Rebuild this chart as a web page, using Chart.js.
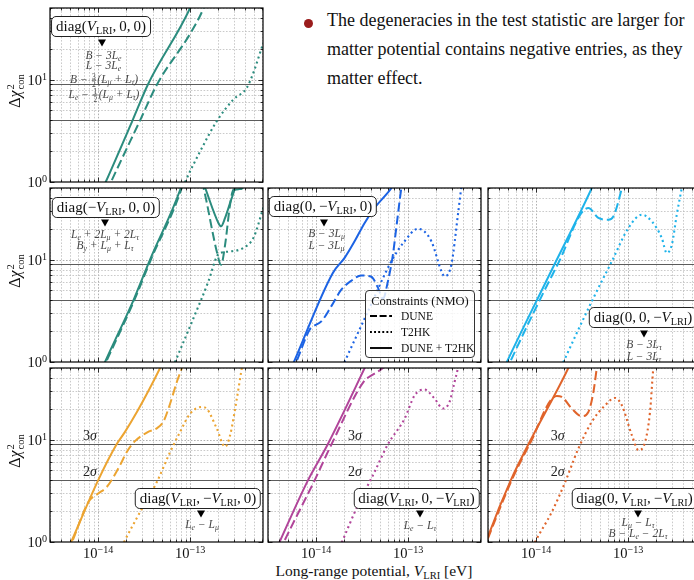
<!DOCTYPE html>
<html>
<head>
<meta charset="utf-8">
<title>Degeneracies of the long-range potential</title>
<script src="https://cdn.jsdelivr.net/npm/chart.js@4.4.1/dist/chart.umd.min.js"></script>
<style>
  html, body { margin:0; padding:0; width:694px; height:580px; overflow:hidden; background:#fff; }
  body { position:relative; font-family:"Liberation Serif","Times New Roman",serif; color:#111; }
  .abs { position:absolute; white-space:nowrap; }
  canvas { position:absolute; }
  sub { font-size:0.68em; vertical-align:-0.28em; line-height:0; }
  sup { font-size:0.7em; vertical-align:0.48em; line-height:0; }
  .box { background:#fff; border:1px solid #222; border-radius:5px; padding:0 4px; font-size:15px; line-height:19px; transform:translateX(-50%); }
  .tri { width:0; height:0; border-left:4px solid transparent; border-right:4px solid transparent; border-top:7px solid #000; transform:translate(-50%,-50%); }
  .note { font-size:11.5px; line-height:12px; color:#474747; font-style:italic; transform:translate(-50%,-50%); }
  .fr { display:inline-block; vertical-align:middle; font-size:7.5px; line-height:7px; text-align:center; font-style:normal; margin:0 1px; }
  .fr span { display:block; padding:0 0.5px; }
  .fr span:first-child { border-bottom:0.7px solid #474747; }
  .tick { font-size:14.5px; line-height:16px; }
  .sig { font-size:14px; line-height:14px; color:#222; transform:translate(-50%,-100%); }
  .ylab { font-size:16px; line-height:18px; transform:translate(-50%,-50%) rotate(-90deg); }
  .ss { display:inline-block; vertical-align:middle; font-size:0.66em; line-height:0.95em; text-align:left; margin-left:1px; }
  .ss span { display:block; }
  .legend { background:rgba(255,255,255,0.8); border:1px solid #333; border-radius:4px; box-sizing:border-box; }
  .legend .lt { position:absolute; left:0; right:0; top:3px; text-align:center; font-size:12.5px; line-height:14px; }
  .legend .lr { position:absolute; left:4px; font-size:11.5px; line-height:12px; }
  .legend svg { position:absolute; left:0; top:3px; }
  .legend .lr span { position:absolute; left:31px; top:0; }
</style>
</head>
<body>
<div class="abs" style="left:303.5px;top:18.5px;width:9px;height:9px;border-radius:50%;background:#9a1c1c"></div>
<div class="abs" style="left:327px;top:6px;font-size:18px;line-height:29px;">The degeneracies in the test statistic are larger for<br>matter potential contains negative entries, as they<br>matter effect.</div>
<div class="abs" style="left:374px;top:571px;font-size:15.5px;line-height:18px;transform:translate(-50%,-50%);">Long-range potential, <i>V</i><sub>LRI</sub> [eV]</div>

<script>
// ---------------- axis ranges and reference levels ----------------
const X_MIN = 3e-15, X_MAX = 6.2e-13;
const Y_MIN = 1, Y_MAX = 50;
const X_TICK_LABELS = [1e-14, 1e-13];
const Y_TICK_LABELS = [1, 10];
const SIGMA_LEVELS = [4, 9];
const SIGMA_NAMES = ['2σ', '3σ'];

// ---------------- diag(V_LRI, 0, 0) ----------------
const ePlus_dune_v = [1.23e-14, 1.38e-14, 2.86e-14, 4.38e-14, 1.04e-13, 1.40e-13, 1.55e-13];
const ePlus_dune_c = [0.8, 1.0, 4.0, 9.0, 29.7, 50, 66];
const ePlus_t2hk_v = [8.0e-14, 8.83e-14, 1.29e-13, 1.95e-13, 2.96e-13, 4.13e-13, 4.88e-13, 6.26e-13, 7.0e-13];
const ePlus_t2hk_c = [0.8, 1.0, 2.0, 3.93, 6.4, 8.3, 11.7, 22.9, 30];
const ePlus_both_v = [1.08e-14, 1.21e-14, 2.37e-14, 3.49e-14, 1.0e-13, 1.1e-13];
const ePlus_both_c = [0.8, 1.0, 4.0, 9.0, 50, 62];

// ---------------- diag(-V_LRI, 0, 0) ----------------
const eMinus_dune_v = [1.09e-14, 1.22e-14, 2.47e-14, 3.75e-14, 8.1e-14, 1.0e-13, 1.25e-13, 1.40e-13, 1.95e-13, 2.17e-13, 2.40e-13, 2.72e-13, 2.96e-13, 3.6e-13, 3.9e-13];
const eMinus_dune_c = [0.8, 1.0, 4.0, 10, 50, 100, 70, 50, 12.0, 8.9, 13.9, 34.5, 48, 49, 60];
const eMinus_t2hk_v = [6.2e-14, 6.87e-14, 1.09e-13, 1.58e-13, 1.95e-13, 2.12e-13, 2.72e-13, 3.79e-13, 4.88e-13, 6.07e-13, 7.0e-13];
const eMinus_t2hk_c = [0.8, 1.0, 2.69, 6.12, 10.7, 11.6, 12.0, 13.0, 16.3, 29.4, 45];
const eMinus_both_v = [1.07e-14, 1.19e-14, 2.42e-14, 3.67e-14, 7.93e-14, 1.0e-13, 1.29e-13, 1.46e-13, 2.03e-13, 2.17e-13, 2.40e-13, 2.84e-13, 3.09e-13, 3.67e-13, 3.96e-13];
const eMinus_both_c = [0.8, 1.0, 4.0, 10, 50, 100, 68, 50, 22.8, 21.1, 25.5, 40, 48.2, 49.3, 60];

// ---------------- diag(0, -V_LRI, 0) ----------------
const muMinus_dune_v = [5.45e-15, 6.09e-15, 8.5e-15, 9.16e-15, 1.14e-14, 1.46e-14, 1.88e-14, 2.42e-14, 3.1e-14, 3.98e-14, 4.70e-14, 5.33e-14, 6.03e-14, 6.84e-14, 7.44e-14, 8.44e-14, 9.0e-14];
const muMinus_dune_c = [0.8, 1.0, 2.07, 2.21, 2.49, 3.49, 5.08, 6.22, 7.0, 6.8, 5.32, 4.15, 6.12, 11.2, 20.4, 50, 70];
const muMinus_t2hk_v = [1.83e-14, 2.04e-14, 3.65e-14, 6.56e-14, 9.16e-14, 1.28e-13, 1.79e-13, 2.30e-13, 2.49e-13, 2.95e-13, 3.48e-13, 3.78e-13, 4.0e-13];
const muMinus_t2hk_c = [0.8, 1.0, 3.1, 9.6, 15.1, 20.0, 15.1, 7.7, 6.86, 8.9, 27.4, 50, 70];
const muMinus_both_v = [5.15e-15, 5.74e-15, 1.52e-14, 2.04e-14, 2.62e-14, 3.37e-14, 4.32e-14, 6.6e-14, 7.3e-14];
const muMinus_both_c = [0.8, 1.0, 7.4, 10.4, 15.1, 22.8, 31.9, 50, 58];

// ---------------- diag(0, 0, -V_LRI) ----------------
const tauMinus_dune_v = [4.66e-15, 5.21e-15, 1.72e-14, 3.7e-14, 4.75e-14, 6.11e-14, 6.92e-14, 8.55e-14, 9.1e-14];
const tauMinus_dune_c = [0.8, 1.0, 9.0, 31.9, 25.5, 24.5, 26.4, 50, 65];
const tauMinus_t2hk_v = [1.77e-14, 1.98e-14, 4.03e-14, 6.65e-14, 1.01e-13, 1.41e-13, 1.81e-13, 2.32e-13, 2.63e-13, 2.99e-13, 3.38e-13, 3.83e-13, 4.1e-13];
const tauMinus_t2hk_c = [0.8, 1.0, 3.91, 9.6, 20.4, 27.4, 23.6, 16.3, 11.6, 14.0, 27.4, 50, 70];
const tauMinus_both_v = [4.3e-15, 4.81e-15, 1.39e-14, 4.03e-14, 4.4e-14];
const tauMinus_both_c = [0.8, 1.0, 7.07, 50, 60];

// ---------------- diag(V_LRI, -V_LRI, 0) ----------------
const eMu_dune_v = [4.66e-15, 5.21e-15, 7.85e-15, 1.0e-14, 1.24e-14, 1.73e-14, 2.05e-14, 2.5e-14, 3.5e-14, 4.3e-14, 5.13e-14, 6.07e-14, 7.17e-14, 8.13e-14, 8.7e-14];
const eMu_dune_c = [0.8, 1.0, 2.46, 2.97, 3.44, 5.61, 7.57, 9.6, 11.9, 12.8, 15.0, 22.5, 36.5, 50, 62];
const eMu_t2hk_v = [1.72e-14, 1.92e-14, 2.86e-14, 4.35e-14, 6.07e-14, 7.79e-14, 1.0e-13, 1.34e-13, 1.52e-13, 1.95e-13, 2.40e-13, 2.72e-13, 3.22e-13, 3.65e-13, 3.9e-13];
const eMu_t2hk_c = [0.8, 1.0, 1.96, 3.85, 7.57, 11.9, 17.9, 20.8, 20.0, 12.8, 8.5, 11.0, 25.1, 50, 70];
const eMu_both_v = [4.55e-15, 5.09e-15, 1.0e-14, 1.59e-14, 1.96e-14, 2.64e-14, 3.6e-14, 4.72e-14, 5.2e-14];
const eMu_both_c = [0.8, 1.0, 4.0, 9.0, 11.9, 18.6, 31, 50, 60];

// ---------------- diag(V_LRI, 0, -V_LRI) ----------------
const eTau_dune_v = [4.0e-15, 4.47e-15, 9.63e-15, 1.47e-14, 3.37e-14, 3.72e-14, 5.32e-14, 6.0e-14];
const eTau_dune_c = [0.8, 1.0, 4.0, 9.0, 37.9, 40.6, 50, 56];
const eTau_t2hk_v = [1.71e-14, 1.91e-14, 2.84e-14, 4.32e-14, 6.03e-14, 9.16e-14, 1.18e-13, 1.51e-13, 1.94e-13, 2.39e-13, 2.82e-13, 3.20e-13, 3.48e-13, 3.7e-13];
const eTau_t2hk_c = [0.8, 1.0, 2.28, 4.83, 9.0, 16.0, 27.1, 30.8, 25.1, 20.1, 23.3, 36.6, 50, 70];
const eTau_both_v = [3.59e-15, 4.01e-15, 8.15e-15, 1.34e-14, 3.37e-14, 3.7e-14];
const eTau_both_c = [0.8, 1.0, 4.0, 9.0, 50, 60];

// ---------------- diag(0, V_LRI, -V_LRI) ----------------
const muTau_dune_v = [2.7e-15, 2.99e-15, 5.42e-15, 8.5e-15, 1.68e-14, 1.90e-14, 2.44e-14, 3.14e-14, 3.70e-14, 4.2e-14, 4.57e-14, 4.8e-14];
const muTau_dune_c = [0.85, 1.08, 4.0, 9.0, 26.6, 26.1, 20.1, 16.9, 18.6, 29.2, 50, 65];
const muTau_t2hk_v = [8.7e-15, 9.75e-15, 1.48e-14, 2.07e-14, 2.88e-14, 4.03e-14, 5.62e-14, 7.22e-14, 8.55e-14, 1.10e-13, 1.30e-13, 1.53e-13, 1.73e-13, 1.88e-13, 2.0e-13];
const muTau_t2hk_c = [0.8, 1.0, 1.96, 3.85, 8.17, 14.9, 21.6, 25.5, 21.6, 11.0, 7.86, 9.48, 18.6, 50, 75];
const muTau_both_v = [2.7e-15, 2.99e-15, 5.3e-15, 8.25e-15, 2.24e-14, 2.45e-14];
const muTau_both_c = [0.85, 1.12, 4.0, 9.0, 50, 60];

// ---------------- layout ----------------
const COL_LEFT = [50, 268, 488];
const ROW_TOP = [8, 188, 368];
const PW = 213, PH = 174, PAD = 4;

const VL = '<i>V</i><sub>LRI</sub>';
const L = s => '<i>L<sub>' + s + '</sub></i>';
const FR = (a, b) => '<span class="fr"><span>' + a + '</span><span>' + b + '</span></span>';
const TS = '&thinsp;';

const PANELS = [
  { col:0, row:0, color:'#2b8c7e', dune:[ePlus_dune_v, ePlus_dune_c], t2hk:[ePlus_t2hk_v, ePlus_t2hk_c], both:[ePlus_both_v, ePlus_both_c],
    box:'diag(' + VL + ',' + TS + '0,' + TS + '0)', boxAt:[101, 16], tri:[101.5, 42.5],
    notes:[['<i>B</i> − 3' + L('e'), 103.5, 55], ['<i>L</i> − 3' + L('e'), 103.5, 64.5],
           ['<i>B</i> − ' + FR(3, 2) + '(' + L('μ') + ' + ' + L('τ') + ')', 104, 80],
           [L('e') + ' − ' + FR(1, 2) + '(' + L('μ') + ' + ' + L('τ') + ')', 104, 94.5]] },
  { col:0, row:1, color:'#2b8c7e', dune:[eMinus_dune_v, eMinus_dune_c], t2hk:[eMinus_t2hk_v, eMinus_t2hk_c], both:[eMinus_both_v, eMinus_both_c],
    box:'diag(−' + VL + ',' + TS + '0,' + TS + '0)', boxAt:[106, 197], tri:[105, 222.5],
    notes:[[L('e') + ' + 2' + L('μ') + ' + 2' + L('τ'), 105, 233.5], ['<i>B<sub>y</sub></i> + ' + L('μ') + ' + ' + L('τ'), 105, 245]] },
  { col:1, row:1, color:'#1c63e4', dune:[muMinus_dune_v, muMinus_dune_c], t2hk:[muMinus_t2hk_v, muMinus_t2hk_c], both:[muMinus_both_v, muMinus_both_c],
    box:'diag(0,' + TS + '−' + VL + ',' + TS + '0)', boxAt:[323, 196], tri:[324, 223],
    notes:[['<i>B</i> − 3' + L('μ'), 326.5, 233], ['<i>L</i> − 3' + L('μ'), 326.5, 244.5]], legend:true },
  { col:2, row:1, color:'#1eb3ea', dune:[tauMinus_dune_v, tauMinus_dune_c], t2hk:[tauMinus_t2hk_v, tauMinus_t2hk_c], both:[tauMinus_both_v, tauMinus_both_c],
    box:'diag(0,' + TS + '0,' + TS + '−' + VL + ')', boxAt:[643, 307], tri:[644, 333.5],
    notes:[['<i>B</i> − 3' + L('τ'), 644, 344], ['<i>L</i> − 3' + L('τ'), 644, 356]] },
  { col:0, row:2, color:'#eca431', dune:[eMu_dune_v, eMu_dune_c], t2hk:[eMu_t2hk_v, eMu_t2hk_c], both:[eMu_both_v, eMu_both_c],
    box:'diag(' + VL + ',' + TS + '−' + VL + ',' + TS + '0)', boxAt:[198, 487.5], tri:[200.5, 514],
    notes:[[L('e') + ' − ' + L('μ'), 202, 524]], sigmaX:90 },
  { col:1, row:2, color:'#b1459a', dune:[eTau_dune_v, eTau_dune_c], t2hk:[eTau_t2hk_v, eTau_t2hk_c], both:[eTau_both_v, eTau_both_c],
    box:'diag(' + VL + ',' + TS + '0,' + TS + '−' + VL + ')', boxAt:[416.5, 487.5], tri:[420, 514],
    notes:[[L('e') + ' − ' + L('τ'), 420, 525]], sigmaX:355 },
  { col:2, row:2, color:'#e0642b', dune:[muTau_dune_v, muTau_dune_c], t2hk:[muTau_t2hk_v, muTau_t2hk_c], both:[muTau_both_v, muTau_both_c],
    box:'diag(0,' + TS + VL + ',' + TS + '−' + VL + ')', boxAt:[634.5, 487.5], tri:[638, 514],
    notes:[[L('μ') + ' − ' + L('τ'), 638, 522], ['<i>B</i> − ' + L('e') + ' − 2' + L('τ'), 638, 532.5]], sigmaX:557.7 }
];

// ---------------- helpers ----------------
function series(xs, ys) { return xs.map((v, i) => ({ x: v, y: ys[i] })); }
function logGrid(min, max) {
  const out = [];
  for (let e = Math.floor(Math.log10(min)); e <= Math.ceil(Math.log10(max)); e++) {
    for (let k = 1; k < 10; k++) {
      const v = k * Math.pow(10, e);
      if (v >= min * 0.999 && v <= max * 1.001) out.push(v);
    }
  }
  return out;
}
function isDecade(v) { const l = Math.log10(v); return Math.abs(l - Math.round(l)) < 1e-6; }
function pow10Label(v) {
  const e = Math.round(Math.log10(v));
  return '10<sup>' + String(e).replace('-', '−') + '</sup>';
}
function addEl(cls, html, left, top, extra) {
  const d = document.createElement('div');
  d.className = 'abs ' + cls;
  d.innerHTML = html;
  d.style.left = left + 'px';
  d.style.top = top + 'px';
  if (extra) Object.assign(d.style, extra);
  document.body.appendChild(d);
  return d;
}

// grid, sigma lines, frame and inward ticks drawn against the chart's scales
const axesFrame = {
  id: 'axesFrame',
  beforeDatasetsDraw(chart) {
    const { ctx, chartArea: a, scales: { x, y } } = chart;
    ctx.save();
    ctx.beginPath(); ctx.rect(a.left, a.top, a.right - a.left, a.bottom - a.top); ctx.clip();
    ctx.lineWidth = 0.8;
    ctx.setLineDash([1.6, 1.6]);
    for (const v of logGrid(X_MIN, X_MAX)) {
      const p = Math.round(x.getPixelForValue(v)) + 0.5;
      ctx.strokeStyle = isDecade(v) ? '#9c9c9c' : '#bdbdbd';
      ctx.beginPath(); ctx.moveTo(p, a.top); ctx.lineTo(p, a.bottom); ctx.stroke();
    }
    for (const v of logGrid(Y_MIN, Y_MAX)) {
      const p = Math.round(y.getPixelForValue(v)) + 0.5;
      ctx.strokeStyle = isDecade(v) ? '#9c9c9c' : '#bdbdbd';
      ctx.beginPath(); ctx.moveTo(a.left, p); ctx.lineTo(a.right, p); ctx.stroke();
    }
    ctx.setLineDash([]);
    ctx.strokeStyle = '#5c5c5c';
    ctx.lineWidth = 1.1;
    for (const lev of SIGMA_LEVELS) {
      const p = Math.round(y.getPixelForValue(lev)) + 0.5;
      ctx.beginPath(); ctx.moveTo(a.left, p); ctx.lineTo(a.right, p); ctx.stroke();
    }
    ctx.restore();
  },
  afterDatasetsDraw(chart) {
    const { ctx, chartArea: a, scales: { x, y } } = chart;
    ctx.save();
    ctx.strokeStyle = '#000';
    ctx.lineWidth = 0.8;
    ctx.beginPath();
    for (const v of logGrid(X_MIN, X_MAX)) {
      const p = Math.round(x.getPixelForValue(v)) + 0.5;
      const len = isDecade(v) ? 4.5 : 2.5;
      ctx.moveTo(p, a.bottom); ctx.lineTo(p, a.bottom - len);
      ctx.moveTo(p, a.top); ctx.lineTo(p, a.top + len);
    }
    for (const v of logGrid(Y_MIN, Y_MAX)) {
      const p = Math.round(y.getPixelForValue(v)) + 0.5;
      const len = isDecade(v) ? 4.5 : 2.5;
      ctx.moveTo(a.left, p); ctx.lineTo(a.left + len, p);
      ctx.moveTo(a.right, p); ctx.lineTo(a.right - len, p);
    }
    ctx.stroke();
    ctx.lineWidth = 1.2;
    ctx.strokeRect(a.left, a.top, a.right - a.left, a.bottom - a.top);
    ctx.restore();
  }
};

function lineSet(label, pts, color, dash, width) {
  return {
    label, data: series(pts[0], pts[1]),
    borderColor: color, borderWidth: width, borderDash: dash,
    borderCapStyle: 'butt', borderJoinStyle: 'round',
    pointRadius: 0, fill: false, clip: 0,
    cubicInterpolationMode: 'monotone'
  };
}

const charts = [];
for (const P of PANELS) {
  const left = COL_LEFT[P.col], top = ROW_TOP[P.row];
  const cv = document.createElement('canvas');
  cv.width = PW + 2 * PAD; cv.height = PH + 2 * PAD;
  cv.style.width = cv.width + 'px'; cv.style.height = cv.height + 'px';
  cv.style.left = (left - PAD) + 'px'; cv.style.top = (top - PAD) + 'px';
  document.body.appendChild(cv);
  const chart = new Chart(cv, {
    type: 'line',
    data: { datasets: [
      lineSet('T2HK', P.t2hk, P.color, [2, 3.2], 2.1),
      lineSet('DUNE', P.dune, P.color, [9, 4], 2),
      lineSet('DUNE + T2HK', P.both, P.color, [], 2)
    ] },
    options: {
      responsive: false, animation: false, events: [],
      layout: { padding: PAD },
      plugins: { legend: { display: false }, tooltip: { enabled: false } },
      scales: {
        x: { type: 'logarithmic', min: X_MIN, max: X_MAX, display: false },
        y: { type: 'logarithmic', min: Y_MIN, max: Y_MAX, display: false }
      }
    },
    plugins: [axesFrame]
  });
  charts.push({ P, chart, ox: left - PAD, oy: top - PAD });
}

// text placed from the scales of each panel
for (const { P, chart, ox, oy } of charts) {
  const xs = chart.scales.x, ys = chart.scales.y;
  const a = chart.chartArea;
  if (P.col === 0) {
    for (const v of Y_TICK_LABELS) {
      addEl('tick', pow10Label(v), ox + a.left - 3, oy + ys.getPixelForValue(v), { transform: 'translate(-100%,-50%)' });
    }
    addEl('ylab', 'Δ<i>χ</i><span class="ss"><span>2</span><span>con</span></span>', 16, oy + (a.top + a.bottom) / 2 - 4);
  }
  if (P.row === 2) {
    for (const v of X_TICK_LABELS) {
      addEl('tick', pow10Label(v), ox + xs.getPixelForValue(v), oy + a.bottom + 3, { transform: 'translateX(-50%)' });
    }
    SIGMA_LEVELS.forEach((lev, i) => {
      addEl('sig', SIGMA_NAMES[i].replace('σ', '<i>σ</i>'), P.sigmaX, oy + ys.getPixelForValue(lev) - 1.5);
    });
  }
  addEl('box', P.box, P.boxAt[0], P.boxAt[1]);
  addEl('tri', '', P.tri[0], P.tri[1]);
  for (const n of P.notes) addEl('note', n[0], n[1], n[2]);
  if (P.legend) {
    const lg = addEl('legend', '', 365, 290, { width: '110px', height: '68px' });
    lg.innerHTML =
      '<div class="lt">Constraints (NMO)</div>' +
      '<div class="lr" style="top:19px"><svg width="23" height="6"><line x1="0" y1="3" x2="22" y2="3" stroke="#000" stroke-width="1.9" stroke-dasharray="7,2.6"/></svg><span>DUNE</span></div>' +
      '<div class="lr" style="top:35px"><svg width="23" height="6"><line x1="0" y1="3" x2="22" y2="3" stroke="#000" stroke-width="1.9" stroke-dasharray="1.9,2.2"/></svg><span>T2HK</span></div>' +
      '<div class="lr" style="top:51px"><svg width="23" height="6"><line x1="0" y1="3" x2="22" y2="3" stroke="#000" stroke-width="1.9"/></svg><span>DUNE + T2HK</span></div>';
  }
}
</script>
</body>
</html>
